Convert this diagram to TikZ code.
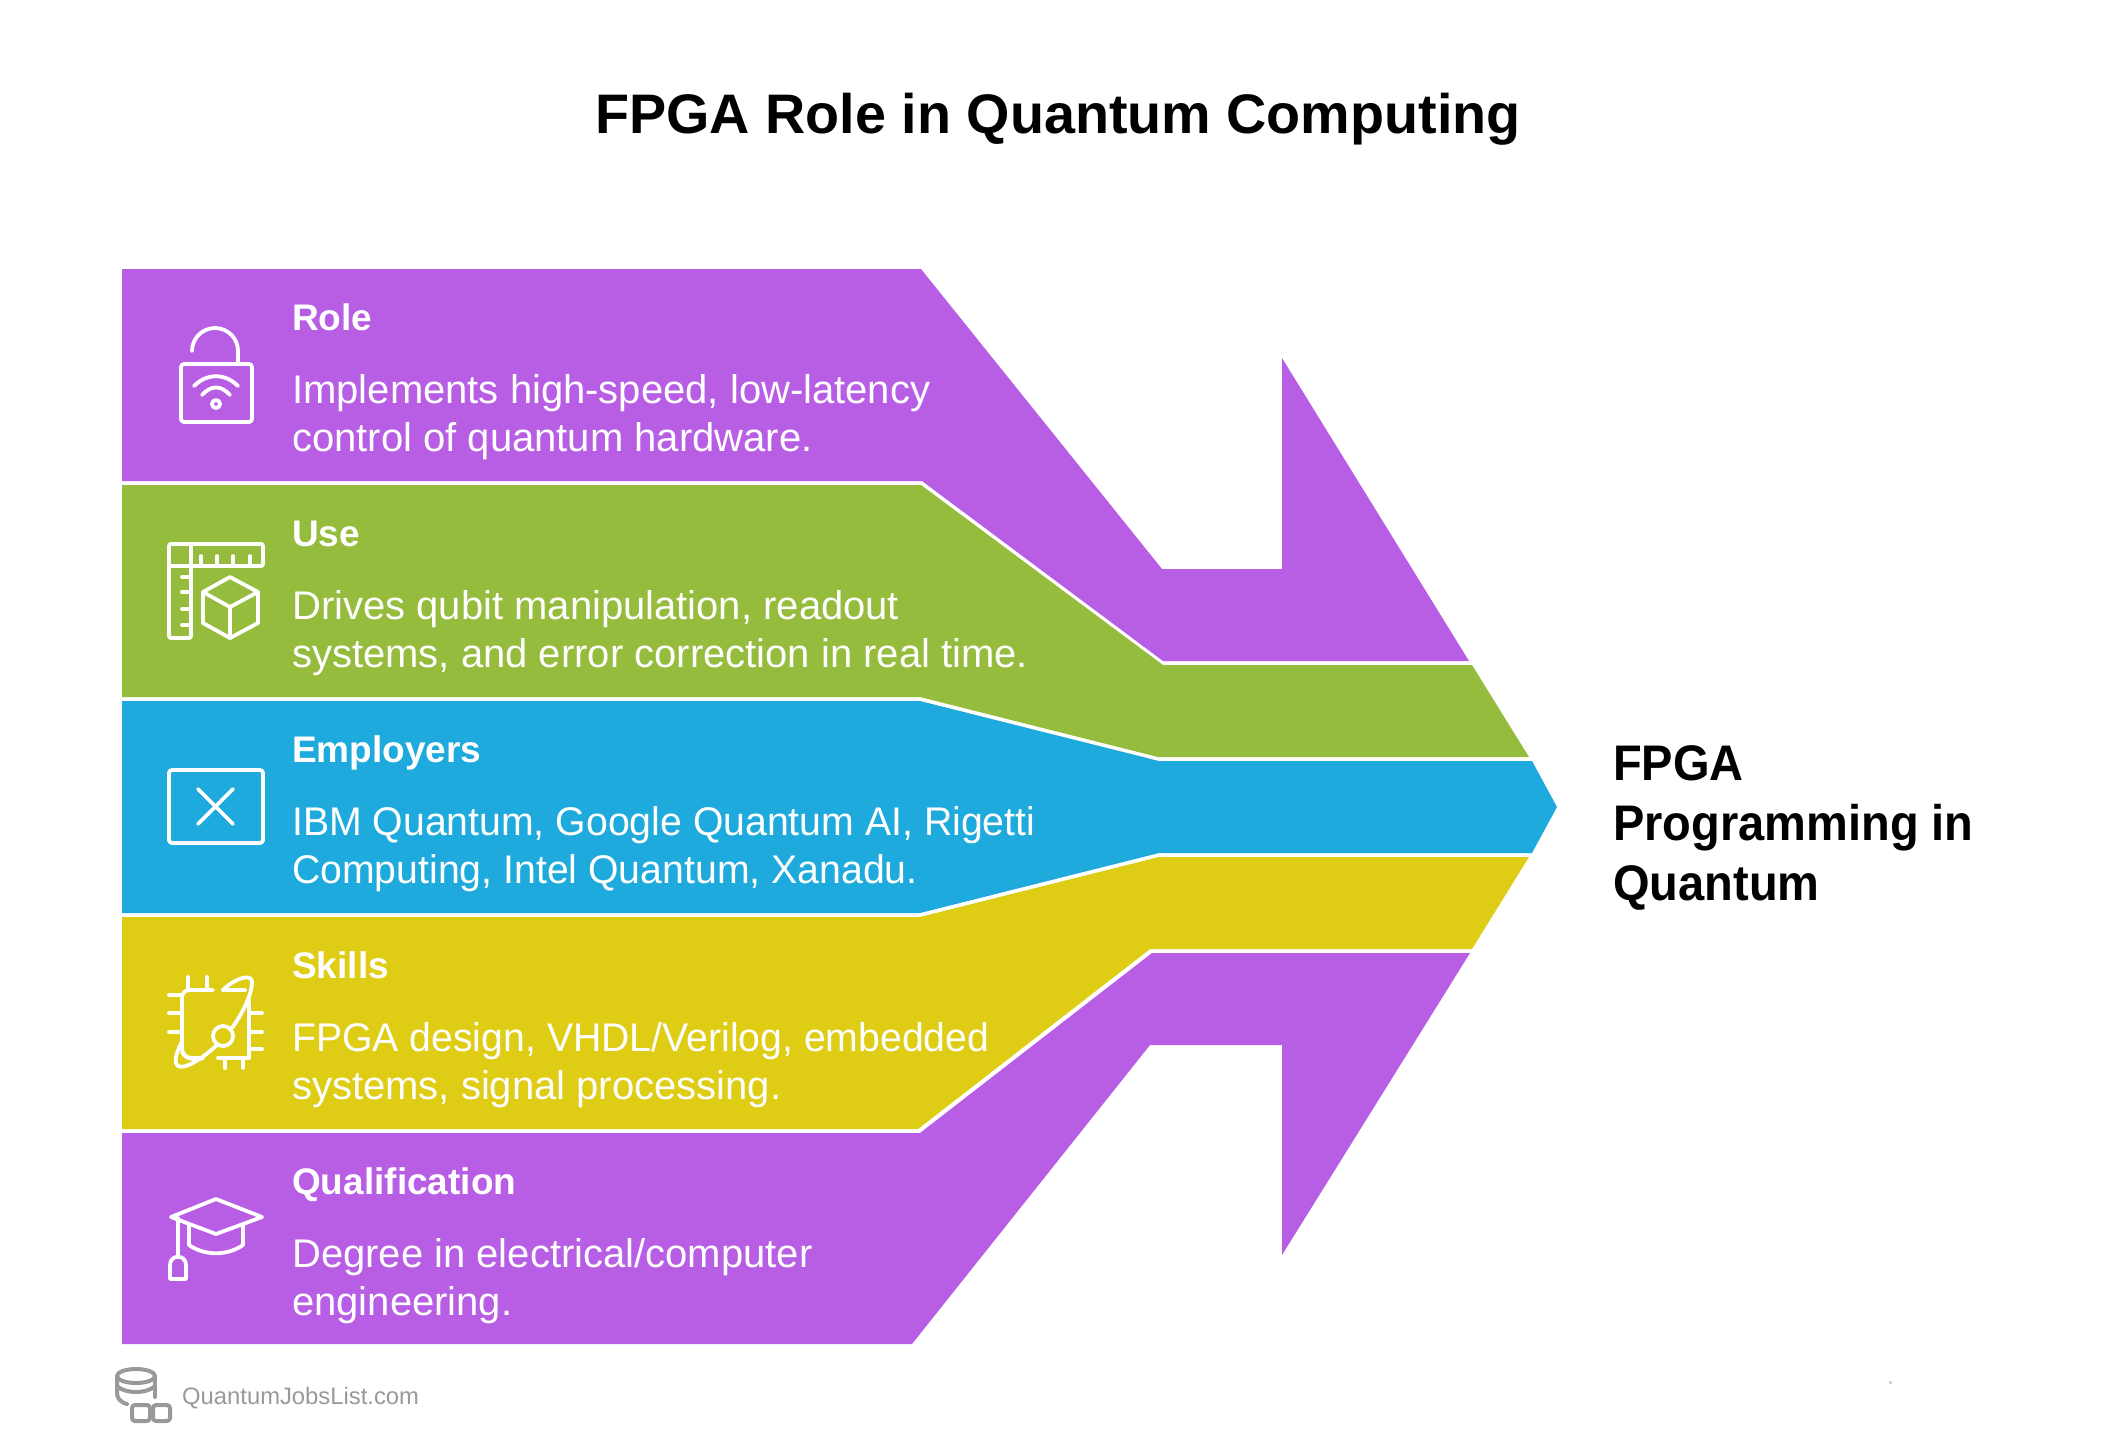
\documentclass[tikz,border=0pt]{standalone}
\usepackage{fontspec}
\setmainfont{Liberation Sans}
\newfontfamily\labelfont[FakeStretch=0.94]{Liberation Sans}
\newfontfamily\capsfont[FakeStretch=0.98]{Liberation Sans}
\definecolor{rolepurple}{HTML}{B85EE4}
\definecolor{usegreen}{HTML}{95BC3C}
\definecolor{employblue}{HTML}{1EAADC}
\definecolor{skillyellow}{HTML}{DFCC14}
\definecolor{markgray}{HTML}{999999}
\tikzset{
    headtext/.style = {anchor=base west, inner sep=0pt, text=white, font=\fontsize{37}{44}\selectfont\bfseries},
    bodytext/.style = {anchor=base west, inner sep=0pt, text=white, align=left, font=\fontsize{40}{48}\selectfont},
    icon/.style = {draw=white, line width=3.8pt, line cap=round, line join=round},
    markicon/.style = {draw=markgray, line width=4pt, line cap=round, line join=round}
}
\begin{document}
\begin{tikzpicture}[x=1pt,y=-1pt]
        \useasboundingbox (0,0) rectangle (2112,1444);
        \fill[rolepurple] (122,269) -- (921,269) -- (1162,569) -- (1282,569) -- (1282,358) -- (1469,661)
            -- (1163,661) -- (922,481) -- (122,481) -- cycle;
        \fill[usegreen] (122,485) -- (921,485) -- (1163,665) -- (1472,665) -- (1529,757)
            -- (1158,757) -- (920,697) -- (122,697) -- cycle;
        \fill[employblue] (122,701) -- (920,701) -- (1159,761) -- (1532,761) -- (1557,807) -- (1532,853)
            -- (1159,853) -- (920,913) -- (122,913) -- cycle;
        \fill[skillyellow] (122,917) -- (920,917) -- (1159,857) -- (1529,857) -- (1472,949)
            -- (1150,949) -- (918,1129) -- (122,1129) -- cycle;
        \fill[rolepurple] (122,1133) -- (920,1133) -- (1152,953) -- (1470,953) -- (1282,1255) -- (1282,1045)
            -- (1150,1045) -- (912,1344) -- (122,1344) -- cycle;

        \node (title) [anchor=base, inner sep=0pt, font=\fontsize{55.7}{67}\selectfont\bfseries] at (1058,133) {FPGA Role in Quantum Computing};
        \node (result) [anchor=base west, inner sep=0pt, align=left, font=\fontsize{50}{60}\labelfont\bfseries] at (1613,900) {FPGA\\Programming in\\Quantum};

        \node (rolehead) [headtext] at (292,330) {Role};
        \node (rolebody) [bodytext] at (292,451) {Implements high-speed, low-latency\\control of quantum hardware.};
        \node (usehead) [headtext] at (292,546) {Use};
        \node (usebody) [bodytext] at (292,667) {Drives qubit manipulation, readout\\systems, and error correction in real time.};
        \node (employhead) [headtext] at (292,762) {Employers};
        \node (employbody) [bodytext] at (292,883) {\capsfont IBM Quantum, Google Quantum AI, Rigetti\\\capsfont Computing, Intel Quantum, Xanadu.};
        \node (skillhead) [headtext] at (292,978) {Skills};
        \node (skillbody) [bodytext] at (292,1099) {\capsfont FPGA design, VHDL/Verilog, embedded\\systems, signal processing.};
        \node (qualhead) [headtext] at (292,1194) {Qualification};
        \node (qualbody) [bodytext] at (292,1315) {Degree in electrical/computer\\engineering.};

        \draw[icon, rounded corners=3pt] (181,364) rectangle (252,422);
        \draw[icon] (192,351) arc (180:360:23) -- (238,364);
        \draw[icon] (194,386) .. controls (207,373) and (225,373) .. (238,386);
        \draw[icon] (202,395) .. controls (211,385) and (221,385) .. (230,395);
        \draw[icon] (216,404) circle (4);

        \draw[icon, rounded corners=2pt] (169,544) -- (263,544) -- (263,566) -- (191,566) -- (191,638) -- (169,638) -- cycle;
        \draw[icon] (191,544) -- (191,566) -- (169,566);
        \foreach \tickx in {201,217,233,250}
            \draw[icon] (\tickx,566) -- (\tickx,556);
        \foreach \ticky in {577,592,609,625}
            \draw[icon] (191,\ticky) -- (182,\ticky);
        \draw[icon] (230,577) -- (258,592) -- (258,623) -- (230,638) -- (203,623) -- (203,592) -- cycle;
        \draw[icon] (203,592) -- (230,607) -- (258,592);
        \draw[icon] (230,607) -- (230,638);

        \draw[icon, rounded corners=3pt] (169,770) rectangle (263,843);
        \draw[icon] (198,789) -- (233,824);
        \draw[icon] (233,789) -- (198,824);

        \draw[icon] (213,990) -- (190,990) .. controls (185,990) and (182,993) .. (182,998) -- (182,1048) .. controls (182,1054) and (186,1058) .. (192,1058) -- (203,1058);
        \draw[icon] (218,1058) -- (249,1058) -- (249,1000);
        \foreach \pinx in {188,207}
            \draw[icon] (\pinx,990) -- (\pinx,977);
        \foreach \piny in {995,1013,1032}
            \draw[icon] (182,\piny) -- (169,\piny);
        \foreach \piny in {1013,1032,1049}
            \draw[icon] (249,\piny) -- (262,\piny);
        \foreach \pinx in {225,243}
            \draw[icon] (\pinx,1058) -- (\pinx,1068);
        \draw[icon] (223,990) .. controls (232,980) and (252,972) .. (252,982) .. controls (252,995) and (242,1014) .. (232,1028);
        \draw[icon] (223,990) -- (245,990);
        \draw[icon] (223,1036) circle (10);
        \draw[icon] (217,1045) .. controls (203,1058) and (185,1070) .. (178,1066) .. controls (173,1062) and (177,1052) .. (181,1043);
        \draw[icon] (182,1052) .. controls (186,1060) and (196,1060) .. (203,1058);

        \draw[icon] (216,1199) -- (262,1217) -- (216,1234) -- (171,1217) -- cycle;
        \draw[icon] (189,1225) -- (189,1245) .. controls (205,1256) and (227,1256) .. (243,1245) -- (243,1225);
        \draw[icon] (178,1218) -- (178,1257);
        \draw[icon] (170,1279) -- (170,1265) .. controls (170,1254) and (186,1254) .. (186,1265) -- (186,1279) -- cycle;

        \draw[markicon] (136,1376) ellipse (19 and 7);
        \draw[markicon] (117,1376) -- (117,1393) .. controls (117,1398) and (120,1402) .. (127,1404);
        \draw[markicon] (155,1376) -- (155,1397);
        \draw[markicon] (117,1386) .. controls (125,1394) and (147,1394) .. (155,1386);
        \draw[markicon, rounded corners=3pt] (132,1405) rectangle (150,1421);
        \draw[markicon, rounded corners=3pt] (153,1405) rectangle (170,1421);
        \node (source) [anchor=base west, inner sep=0pt, text=markgray, font=\fontsize{23.8}{29}\selectfont] at (182,1404) {QuantumJobsList.com};

        \fill[black!18] (1889,1381) rectangle (1892,1384);
\end{tikzpicture}
\end{document}
